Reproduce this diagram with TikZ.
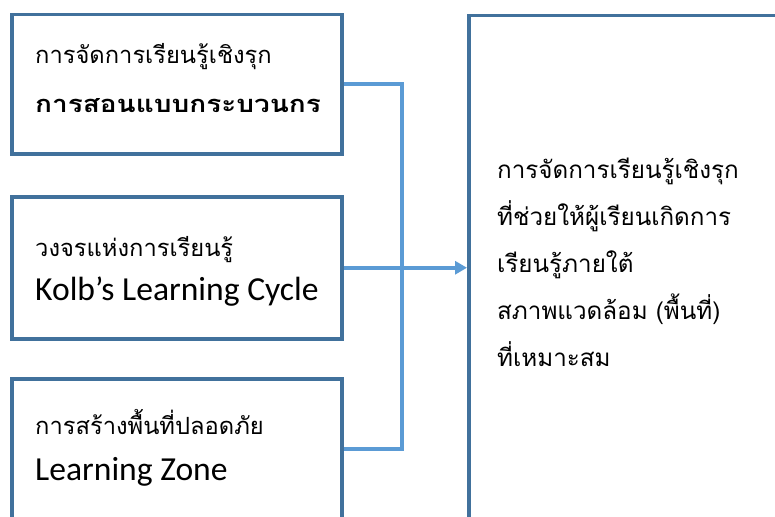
\documentclass[tikz,border=0pt]{standalone}
\usepackage{fontspec}
\setmainfont{Carlito}
\newfontfamily\thai[Script=Thai]{Loma}
\newfontfamily\thaiwide[Script=Thai,FakeStretch=1.18]{Loma}
\usetikzlibrary{arrows.meta}
\definecolor{boxline}{HTML}{41719C}
\definecolor{conn}{HTML}{5B9BD5}
\begin{document}
\begin{tikzpicture}[x=1pt,y=-1pt,
  box/.style={draw=boxline,line width=3.5pt,fill=white,rectangle,anchor=north west,inner sep=0pt},
  th/.style={anchor=base west,inner sep=0pt,font=\thai\fontsize{23.7}{28}\selectfont},
  thr/.style={anchor=base west,inner sep=0pt,font=\thai\fontsize{24.2}{28}\selectfont},
  thb/.style={anchor=base west,inner sep=0pt,font=\thaiwide\bfseries\fontsize{23.7}{28}\selectfont},
  la/.style={anchor=base west,inner sep=0pt,font=\fontsize{33.6}{38}\selectfont},
  connline/.style={draw=conn,line width=4.5pt}]
\useasboundingbox (0,0) rectangle (775,516);
\node[box,minimum width=330pt,minimum height=139pt] (b1) at (10,13) {};
\node[box,minimum width=330pt,minimum height=142pt] (b2) at (10,195) {};
\node[box,minimum width=330pt,minimum height=140pt] (b3) at (10,377) {};
\node[box,minimum width=340pt,minimum height=504pt] (r) at (467,14) {};
\node[th] (t1a) at (35,64) {การจัดการเรียนรู้เชิงรุก};
\node[thb] (t1b) at (35,112) {การสอนแบบกระบวนกร};
\node[th] (t2a) at (35,256) {วงจรแห่งการเรียนรู้};
\node[la] (t2b) at (35,300) {Kolb’s Learning Cycle};
\node[th] (t3a) at (35,434) {การสร้างพื้นที่ปลอดภัย};
\node[la] (t3b) at (35,480) {Learning Zone};
\node[thr] (r1) at (497,178) {การจัดการเรียนรู้เชิงรุก};
\node[thr] (r2) at (497,225) {ที่ช่วยให้ผู้เรียนเกิดการ};
\node[thr] (r3) at (497,272) {เรียนรู้ภายใต้};
\node[thr] (r4) at (497,319) {สภาพแวดล้อม (พื้นที่)};
\node[thr] (r5) at (497,366) {ที่เหมาะสม};
\coordinate (j) at (402,266);
\draw[connline] (b1.east) -| (j) |- (b3.east);
\draw[connline,-{Triangle[length=12pt,width=13pt]}] (b2.east) -- (r.west);
\end{tikzpicture}
\end{document}
